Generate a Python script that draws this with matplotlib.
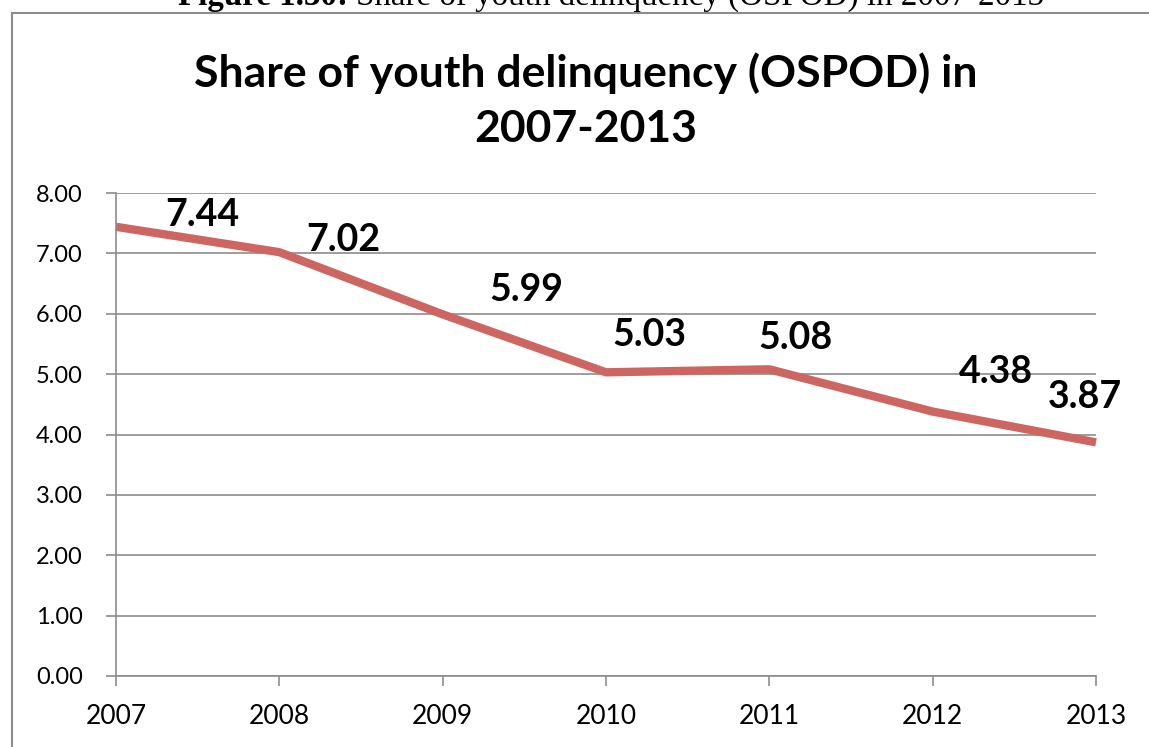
#!/usr/bin/env python3
"""Line chart: share of youth delinquency (OSPOD) 2007-2013."""
import matplotlib

matplotlib.use("Agg")
import matplotlib.pyplot as plt  # noqa: E402
from matplotlib.patches import Rectangle  # noqa: E402

YEARS = ["2007", "2008", "2009", "2010", "2011", "2012", "2013"]
SHARE = [7.44, 7.02, 5.99, 5.03, 5.08, 4.38, 3.87]
Y_TICKS = [0, 1, 2, 3, 4, 5, 6, 7, 8]

# label centre relative to its point, in pixels (right, up)
LABEL_OFFSETS = [(86, 14), (64, 14), (84, 26), (43, 39), (26, 33), (63, 42), (-11, 47)]

W, H = 1149, 747
FONT = ["Lato", "DejaVu Sans"]
SERIF = ["Liberation Serif", "DejaVu Serif"]
GRAY = "#8c8c8c"
LINE_COLOR = "#cd6660"
PX = 72 / 100  # points per pixel at dpi 100

fig = plt.figure(figsize=(W / 100, H / 100), dpi=100)

# chart frame, only left and top edges fall inside the picture
fig.patches.append(Rectangle((12 / W, -0.05), 1.1, (H - 13) / H + 0.05,
                             transform=fig.transFigure, fill=False,
                             edgecolor=GRAY, linewidth=1.5))

# document caption, mostly cut off at the top; fit it to 178..1043 px
cap_y = 1 - 5 / H
bold = fig.text(178 / W, cap_y, "Figure 1.30: ", family=SERIF, fontweight="bold",
                fontsize=20, ha="left", va="baseline")
rest = fig.text(0, cap_y, "Share of youth delinquency (OSPOD) in 2007-2013",
                family=SERIF, fontsize=20, ha="left", va="baseline")
renderer = fig.canvas.get_renderer()
w_bold = bold.get_window_extent(renderer).width
w_rest = rest.get_window_extent(renderer).width
scale = (1043 - 178) / (w_bold + w_rest)
bold.set_fontsize(20 * scale)
rest.set_fontsize(20 * scale)
rest.set_x((178 + w_bold * scale) / W)

fig.text(586 / W, 1 - 87 / H, "Share of youth delinquency (OSPOD) in",
         family=FONT, fontweight="bold", fontsize=32, ha="center", va="baseline")
fig.text(586 / W, 1 - 142 / H, "2007-2013",
         family=FONT, fontweight="bold", fontsize=32, ha="center", va="baseline")

ax = fig.add_axes([116 / W, (H - 676) / H, (1096 - 116) / W, (676 - 193) / H])
x = list(range(len(YEARS)))
ax.plot(x, SHARE, color=LINE_COLOR, linewidth=6, solid_joinstyle="round",
        solid_capstyle="butt", clip_on=False)

for xi, val, (dx, dy) in zip(x, SHARE, LABEL_OFFSETS):
    ax.annotate(f"{val:.2f}", (xi, val), xytext=(dx * PX, (dy - 13) * PX),
                textcoords="offset points", ha="center", va="baseline",
                family=FONT, fontweight="bold", fontsize=27, color="black")

ax.set_xlim(0, len(YEARS) - 1)
ax.set_ylim(0, 8)
ax.set_xticks(x)
ax.set_xticklabels(YEARS)
ax.set_yticks(Y_TICKS)
ax.set_yticklabels([f"{t:.2f}" for t in Y_TICKS])
ax.yaxis.grid(True, color=GRAY, linewidth=1.2)
ax.set_axisbelow(True)
for side in ("top", "right"):
    ax.spines[side].set_visible(False)
for side in ("left", "bottom"):
    ax.spines[side].set_color(GRAY)
    ax.spines[side].set_linewidth(1.2)
ax.tick_params(axis="both", colors=GRAY, length=7, width=1.2, labelcolor="black")
ax.tick_params(axis="y", pad=17, labelsize=17)
ax.tick_params(axis="x", pad=13, labelsize=19)
for lbl in ax.get_xticklabels() + ax.get_yticklabels():
    lbl.set_family(FONT)
ax.set_facecolor("none")

fig.savefig("out.png", dpi=100)
